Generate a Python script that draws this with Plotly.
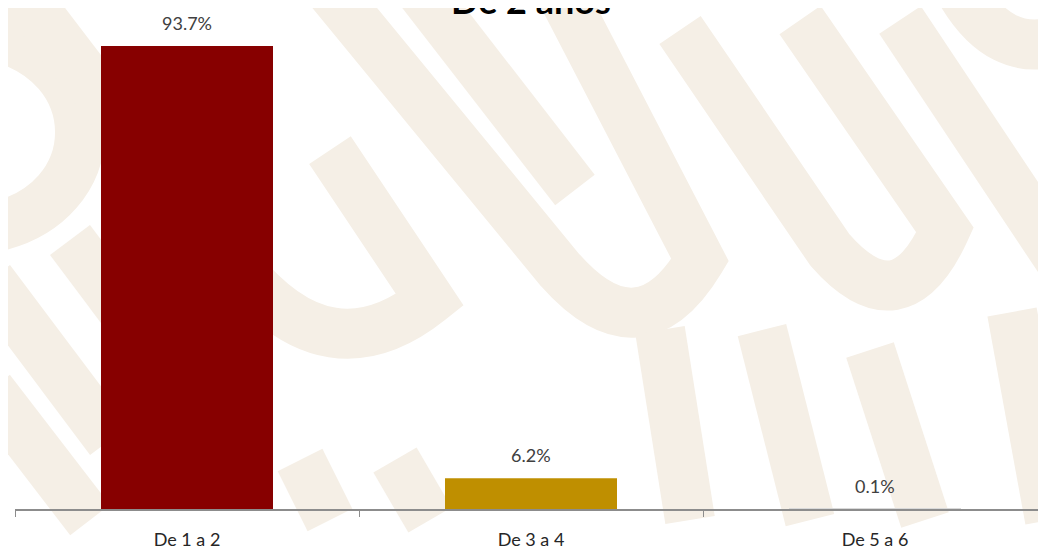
import plotly.graph_objects as go

categories = ["De 1 a 2", "De 3 a 4", "De 5 a 6"]
values = [93.7, 6.2, 0.1]
labels = ["93.7%", "6.2%", "0.1%"]
colors = ["#870000", "#BF8F00", "#D9D9D9"]
title_text = "De 2 años"

# page body has an 8px margin; compensate so the plot sits where the reference has it
OFF = 8
W, H = 1046, 550
PL, PT, PW, PH = 15, 15, 1032, 494          # plot area in screen pixels
ML, MT = PL - OFF, PT - OFF
MR = W - ML - PW
MB = H - MT - PH

def px(x, y):
    return (x - PL) / PW, (PT + PH - y) / PH

def path(points):
    s = ""
    for cmd, pts in points:
        coords = " ".join("%.4f,%.4f" % px(*p) for p in pts)
        s += cmd + " " + coords + " "
    return s.strip()

beige = "#F5EFE6"
strokes = [
    [("M", [(-10, 35)]), ("C", [(110, 60), (110, 205), (-10, 228)])],
    [("M", [(330, -10)]), ("L", [(560, 270)]), ("Q", [(640, 360), (700, 260)]), ("L", [(560, -10)])],
    [("M", [(420, -10)]), ("L", [(575, 190)])],
    [("M", [(680, 30)]), ("L", [(830, 250)]), ("Q", [(900, 330), (945, 230)]), ("L", [(800, 20)])],
    [("M", [(900, 20)]), ("L", [(1060, 260)])],
    [("M", [(20, -10)]), ("L", [(180, 200)])],
    [("M", [(70, 240)]), ("L", [(130, 320)])],
    [("M", [(-10, 280)]), ("L", [(110, 440)])],
    [("M", [(-10, 390)]), ("L", [(90, 520)])],
    [("M", [(660, 330)]), ("L", [(690, 520)])],
    [("M", [(762, 330)]), ("L", [(810, 520)])],
    [("M", [(870, 350)]), ("L", [(925, 520)])],
    [("M", [(1012, 312)]), ("L", [(1050, 520)])],
    [("M", [(395, 460)]), ("L", [(430, 520)])],
    [("M", [(300, 460)]), ("L", [(330, 520)])],
    [("M", [(240, 270)]), ("Q", [(330, 380), (430, 300)]), ("L", [(330, 150)])],
    [("M", [(960, -10)]), ("Q", [(1000, 60), (1060, 40)])],
]

shapes = []
for st in strokes:
    shapes.append(dict(type="path", xref="paper", yref="paper", path=path(st),
                       line=dict(color=beige, width=50), layer="below"))

fig = go.Figure()
fig.add_trace(go.Bar(
    x=categories, y=values,
    marker=dict(color=colors, line=dict(width=0)),
    width=0.5,
))

annotations = []
for c, v, t in zip(categories, values, labels):
    annotations.append(dict(x=c, y=v, text=t, showarrow=False, yanchor="bottom",
                            yshift=10, font=dict(family="Lato", size=18, color="#404040")))
annotations.append(dict(x=0.5, y=1.0, xref="paper", yref="paper", text="<b>%s</b>" % title_text,
                        showarrow=False, yanchor="bottom", xanchor="center", yshift=-9,
                        font=dict(family="Lato", size=36, color="#000000")))

fig.update_layout(
    width=W, height=H,
    margin=dict(l=ML, r=MR, t=MT, b=MB),
    paper_bgcolor="white", plot_bgcolor="rgba(0,0,0,0)",
    showlegend=False,
    shapes=shapes,
    annotations=annotations,
    xaxis=dict(showline=True, linecolor="#8C8C8C", linewidth=1.5,
               ticks="outside", tickson="boundaries", ticklen=6, tickcolor="#8C8C8C",
               tickfont=dict(family="Lato", size=18, color="#262626"),
               ticklabelstandoff=14, showgrid=False, range=[-0.5, 2.5]),
    yaxis=dict(range=[0, 100], visible=False, showgrid=False),
)

fig.write_html("out.html")
